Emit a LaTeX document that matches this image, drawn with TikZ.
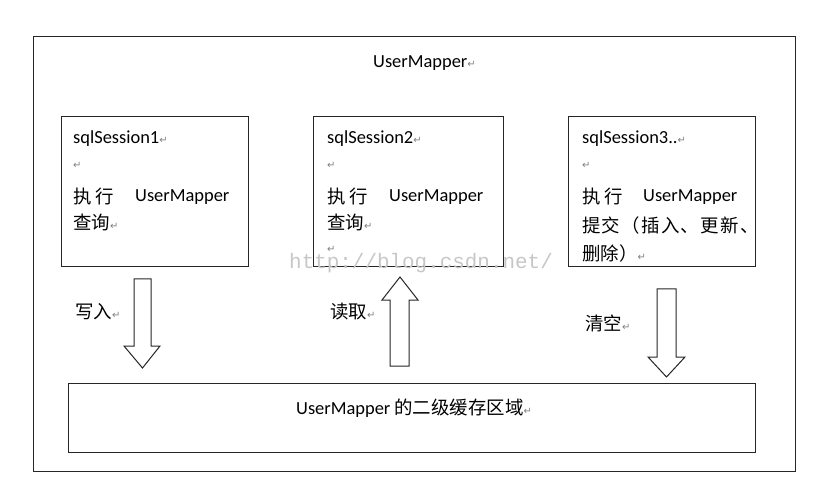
\documentclass[tikz,border=0pt]{standalone}
\usepackage{fontspec}
\setmainfont{Carlito}
\newfontfamily\cjk{Noto Sans CJK SC}
\newfontfamily\dejavu{DejaVu Sans}
\newfontfamily\wmfont{Liberation Mono}
\newcommand\retmark{{\dejavu\fontsize{10}{10}\selectfont\textcolor{black!50}{↵}}}
\tikzset{
  frame/.style={draw=black!85, line width=1.2bp},
  boxn/.style={draw=black!85, line width=1.2bp, anchor=north west, inner sep=0pt},
  lbl/.style={anchor=west, inner sep=0pt, font=\fontsize{18.5}{20}\selectfont},
  blockarrow/.style={draw=black!85, line width=1bp, fill=white},
}
\begin{document}
\begin{tikzpicture}[x=1bp,y=-1bp]
\useasboundingbox (0,0) rectangle (820,486);
\fill[white] (0,0) rectangle (820,486);
% outer frame
\node[boxn, minimum width=762bp, minimum height=435bp] (outer) at (33,36) {};
\node[lbl] (title) at (373,63) {UserMapper\retmark};
% session boxes
\node[boxn, minimum width=187bp, minimum height=150bp] (s1) at (61,116) {};
\node[boxn, minimum width=190bp, minimum height=150bp] (s2) at (313,116) {};
\node[boxn, minimum width=187bp, minimum height=150bp] (s3) at (568,116) {};
% bottom box
\node[boxn, minimum width=687bp, minimum height=69bp] (cache) at (68,383) {};
\node[lbl] (cachetxt) at (296,408) {UserMapper {\cjk 的二级缓存区域}\retmark};
% watermark
\node[anchor=west, inner sep=0pt, font=\wmfont\fontsize{21}{22}\selectfont, text=black!22] (wm) at (289,263) {http://blog.csdn.net/};
% box 1 text
\node[lbl] (s1a) at (73,139) {sqlSession1\retmark};
\node[lbl] (s1b) at (73,165) {\retmark};
\node[lbl] (s1c) at (73,197) {{\cjk 执\hspace{4bp}行}};
\node[lbl] (s1d) at (135,197) {UserMapper};
\node[lbl] (s1e) at (73,222) {{\cjk 查询}\retmark};
% box 2 text
\node[lbl] (s2a) at (327,139) {sqlSession2\retmark};
\node[lbl] (s2b) at (327,165) {\retmark};
\node[lbl] (s2c) at (327,197) {{\cjk 执\hspace{4bp}行}};
\node[lbl] (s2d) at (389,197) {UserMapper};
\node[lbl] (s2e) at (327,222) {{\cjk 查询}\retmark};
\node[lbl] (s2f) at (327,249) {\retmark};
% box 3 text
\node[lbl] (s3a) at (582,139) {sqlSession3..\retmark};
\node[lbl] (s3b) at (582,165) {\retmark};
\node[lbl] (s3c) at (582,197) {{\cjk 执\hspace{4bp}行}};
\node[lbl] (s3d) at (643,197) {UserMapper};
\node[lbl] (s3e) at (582,225) {{\cjk 提\hspace{1.3bp}交\hspace{1.3bp}（\hspace{1.3bp}插\hspace{1.3bp}入\hspace{1.3bp}、\hspace{1.3bp}更\hspace{1.3bp}新\hspace{1.3bp}、}};
\node[lbl] (s3f) at (582,253) {{\cjk 删除）}\retmark};
% arrows
\draw[blockarrow] (134,279) -- (151,279) -- (151,346) -- (160,346) -- (142.5,368) -- (124,346) -- (134,346) -- cycle;
\draw[blockarrow] (390,366) -- (409,366) -- (409,300) -- (418,300) -- (400,277) -- (382,300) -- (390,300) -- cycle;
\draw[blockarrow] (657,289) -- (676,289) -- (676,357) -- (685,357) -- (666.5,377) -- (648,357) -- (657,357) -- cycle;
% arrow labels
\node[lbl] (w) at (75,312) {{\cjk 写入}\retmark};
\node[lbl] (r) at (330,312) {{\cjk 读取}\retmark};
\node[lbl] (c) at (585,323) {{\cjk 清空}\retmark};
\end{tikzpicture}
\end{document}
